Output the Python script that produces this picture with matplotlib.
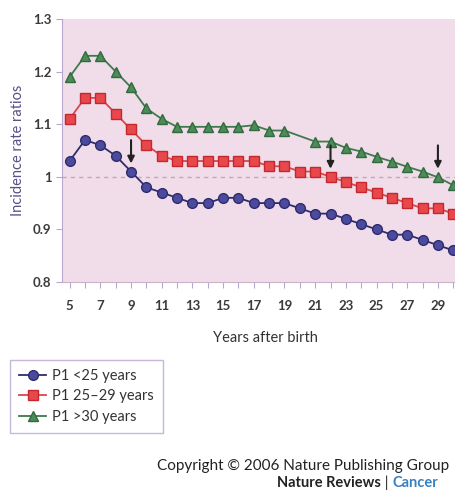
import numpy as np
import matplotlib.pyplot as plt
import matplotlib as mpl

mpl.rcParams["font.family"] = ["Lato", "DejaVu Sans"]

# data
years = list(range(5, 31))
p1_under25 = [1.03, 1.07, 1.06, 1.04, 1.01, 0.98, 0.97, 0.96, 0.95, 0.95, 0.96, 0.96, 0.95,
              0.95, 0.95, 0.94, 0.93, 0.93, 0.92, 0.91, 0.90, 0.89, 0.89, 0.88, 0.87, 0.86]
p1_25_29 = [1.11, 1.15, 1.15, 1.12, 1.09, 1.06, 1.04, 1.03, 1.03, 1.03, 1.03, 1.03, 1.03,
            1.02, 1.02, 1.01, 1.01, 1.00, 0.99, 0.98, 0.97, 0.96, 0.95, 0.94, 0.94, 0.93]
# no marker drawn for year 20 on the >30 curve
years_over30 = [5, 6, 7, 8, 9, 10, 11, 12, 13, 14, 15, 16, 17, 18, 19,
                21, 22, 23, 24, 25, 26, 27, 28, 29, 30]
p1_over30 = [1.19, 1.23, 1.23, 1.20, 1.17, 1.13, 1.11, 1.095, 1.095, 1.095, 1.095, 1.095, 1.098,
             1.088, 1.088, 1.067, 1.067, 1.055, 1.048, 1.038, 1.029, 1.019, 1.010, 0.999, 0.984]
arrow_years = [9, 22, 29]
arrow_vals = [1.01, 1.00, 1.00]

labels = ["P1 <25 years", "P1 25\u201329 years", "P1 >30 years"]

fig = plt.figure(figsize=(4.56, 4.93), dpi=100)
ax = fig.add_axes([62 / 456, 211 / 493, 406.6 / 456, 263 / 493])
ax.set_facecolor("#f1dde9")

ax.axhline(1.0, color="#c9a3b8", linestyle=(0, (3, 3)), linewidth=1, zorder=1)

ax.plot(years, p1_under25, color="#2f2c6e", linewidth=1.3, marker="o", markersize=7,
        markerfacecolor="#4b4a9c", markeredgecolor="#2f2c6e", label=labels[0], zorder=3)
ax.plot(years, p1_25_29, color="#d9464c", linewidth=1.3, marker="s", markersize=6.8,
        markerfacecolor="#e8484c", markeredgecolor="#c3282e", label=labels[1], zorder=3)
ax.plot(years_over30, p1_over30, color="#3e7a4c", linewidth=1.3, marker="^", markersize=7.5,
        markerfacecolor="#4f8a5b", markeredgecolor="#2f6b3c", label=labels[2], zorder=3)

# arrows where each curve crosses 1
for yr, v in zip(arrow_years, arrow_vals):
    ax.annotate("", xy=(yr, v + 0.01), xytext=(yr, v + 0.065),
                arrowprops=dict(arrowstyle="-|>", color="#222222", lw=1.5,
                                mutation_scale=10), zorder=4)

ax.set_xlim(4.5, 31)
ax.set_ylim(0.8, 1.3)
ax.set_yticks([0.8, 0.9, 1.0, 1.1, 1.2, 1.3])
ax.set_yticklabels(["0.8", "0.9", "1", "1.1", "1.2", "1.3"])
ax.set_xticks(years)
ax.set_xticklabels([str(y) if y % 2 == 1 else "" for y in years])

for s in ["top", "right"]:
    ax.spines[s].set_visible(False)
ax.spines["left"].set_color("#b7a6d0")
ax.spines["bottom"].set_color("#c9b2cc")
ax.tick_params(axis="both", colors="#b7a6d0", labelcolor="#3a3a3a", labelsize=9.5, length=4)
ax.tick_params(axis="x", pad=9)
for t in ax.get_xticklabels() + ax.get_yticklabels():
    t.set_fontweight("bold")

ax.set_xlabel("Years after birth", fontsize=10.5, color="#333333", labelpad=14)
ax.set_ylabel("Incidence rate ratios", fontsize=10.5, color="#5b4f86", labelpad=6)

handles, _ = ax.get_legend_handles_labels()
leg = fig.legend(handles, labels, loc="upper left", bbox_to_anchor=(10 / 456, 1 - 360 / 493),
                 fontsize=10.5, frameon=True, fancybox=False, handlelength=1.9,
                 handletextpad=0.4, borderpad=0.6, labelspacing=0.45, borderaxespad=0)
leg.get_frame().set_edgecolor("#b7a6d0")
leg.get_frame().set_linewidth(1)
for txt in leg.get_texts():
    txt.set_color("#333333")

# credit lines at the bottom
fig.text(157 / 456, 1 - 466 / 493, "Copyright \u00a9 2006 Nature Publishing Group",
         fontsize=11, color="#222222", va="center", ha="left")
nr = fig.text(277 / 456, 1 - 483 / 493, "Nature Reviews", fontsize=10.5, fontweight="bold",
              color="#222222", va="center", ha="left")
sep = plt.annotate(" | ", xy=(1, 0.5), xycoords=nr, va="center", ha="left",
                   fontsize=10.5, color="#222222")
plt.annotate("Cancer", xy=(1, 0.5), xycoords=sep, va="center", ha="left",
             fontsize=10.5, fontweight="bold", color="#3a7fc0")

fig.savefig("out.png", dpi=100)
